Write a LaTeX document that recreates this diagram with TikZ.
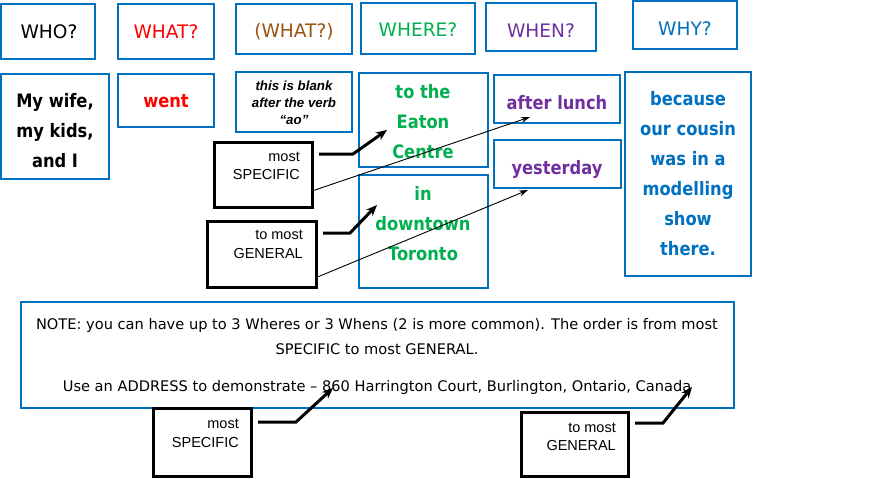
\documentclass[tikz,border=0pt]{standalone}
\usepackage{fontspec}
\setmainfont{DejaVu Sans}
\newfontfamily\arialf{Liberation Sans}
\newfontfamily\comicb[FakeStretch=0.88]{DejaVu Sans}
\usetikzlibrary{arrows.meta,calc,fit}
\definecolor{bblue}{HTML}{0070C0}
\definecolor{cred}{HTML}{FF0000}
\definecolor{cbrown}{HTML}{9C5412}
\definecolor{cgreen}{HTML}{00B050}
\definecolor{cpurple}{HTML}{7030A0}
\begin{document}
\begin{tikzpicture}[x=1pt,y=-1pt,
  bbox/.style={draw=bblue, line width=2.5pt, inner sep=0pt, outer sep=0pt},
  kbox/.style={draw=black, line width=3pt, inner sep=0pt, outer sep=0pt},
  head/.style={inner sep=0pt, font=\fontsize{18.6}{22}\selectfont},
  body/.style={inner sep=0pt, align=center, font=\comicb\bfseries\fontsize{18.5}{30}\selectfont},
  small/.style={inner sep=0pt, align=right, anchor=east, font=\arialf\fontsize{14.5}{18.5}\selectfont},
  notetext/.style={inner sep=0pt, align=center, font=\fontsize{14.6}{25}\selectfont},
  thickarrow/.style={line width=3pt, -{Stealth[length=11pt,width=9pt]}},
  thinarrow/.style={line width=0.9pt, -{Stealth[length=9pt,width=6pt]}},
]
\useasboundingbox[fill=white] (0,0) rectangle (886,479);
% heading boxes
\node[bbox, fit={(1,4)(95,59)}] (who) {};
\node[bbox, fit={(118,4)(214,59)}] (what) {};
\node[bbox, fit={(236,4)(352,54)}] (whatb) {};
\node[bbox, fit={(361,3)(475,54)}] (where) {};
\node[bbox, fit={(486,3)(596,51)}] (when) {};
\node[bbox, fit={(633,1)(737,49)}] (why) {};
\node[head] (whoT) at (49,32) {WHO?};
\node[head, text=cred] (whatT) at (166,32) {WHAT?};
\node[head, text=cbrown] (whatbT) at (294,32) {(WHAT?)};
\node[head, text=cgreen] (whereT) at (418,30) {WHERE?};
\node[head, text=cpurple] (whenT) at (541,31) {WHEN?};
\node[head, text=bblue] (whyT) at (685,29) {WHY?};
% answer boxes
\node[bbox, fit={(1,74)(109,179)}] (wife) {};
\node[bbox, fit={(118,74)(214,127)}] (went) {};
\node[bbox, fit={(236,72)(352,132)}] (blank) {};
\node[bbox, fit={(359,73)(488,167)}] (eaton) {};
\node[bbox, fit={(359,175)(488,288)}] (downtown) {};
\node[bbox, fit={(494,75)(620,123)}] (after) {};
\node[bbox, fit={(494,140)(621,188)}] (yest) {};
\node[bbox, fit={(625,72)(751,276)}] (because) {};
\node[body] (wifeT) at (55,131) {My wife,\\my kids,\\and I};
\node[body, text=cred] (wentT) at (166,101) {went};
\node[inner sep=0pt, align=center, font=\arialf\bfseries\itshape\fontsize{13.3}{17}\selectfont] (blankT) at (294,103) {this is blank\\after the verb\\“ao”};
\node[body, text=cgreen] (eatonT) at (423,122) {to the\\Eaton\\Centre};
\node[body, text=cgreen] (downtownT) at (423,224) {in\\downtown\\Toronto};
\node[body, text=cpurple] (afterT) at (557,103) {after lunch};
\node[body, text=cpurple] (yestT) at (557,169) {yesterday};
\node[body, text=bblue] (becauseT) at (688,174) {because\\our cousin\\was in a\\modelling\\show\\there.};
% note box
\node[bbox, fit={(21,302)(734,408)}] (note) {};
\node[notetext] (noteT) at (377,337) {NOTE: you can have up to 3 Wheres or 3 Whens (2 is more common). The order is from most\\SPECIFIC to most GENERAL.};
\node[notetext] (noteU) at (377,387) {Use an ADDRESS to demonstrate -- 860 Harrington Court, Burlington, Ontario, Canada};
% black boxes
\node[kbox, fit={(214,142)(312,207)}] (spec1) {};
\node[kbox, fit={(207,221)(316,287)}] (gen1) {};
\node[kbox, fit={(153,408)(251,476)}] (spec2) {};
\node[kbox, fit={(521,412)(628,476)}] (gen2) {};
\node[small] (spec1T) at ($(spec1.east)+(-12,-8.5)$) {most\\SPECIFIC};
\node[small] (gen1T) at ($(gen1.east)+(-13,-9.5)$) {to most\\GENERAL};
\node[small] (spec2T) at ($(spec2.east)+(-12,-8.5)$) {most\\SPECIFIC};
\node[small] (gen2T) at ($(gen2.east)+(-12,-7)$) {to most\\GENERAL};
% arrows
\draw[thickarrow] ($(spec1.north east)+(7,12)$) -- ++(34,0) -- ($(eaton.north west)+(28,57)$);
\draw[thickarrow] ($(gen1.north east)+(7,12)$) -- ++(27,0) -- ($(downtown.north west)+(18,30)$);
\draw[thinarrow] ($(spec1.south east)+(0,-16)$) -- ($(after.south west)+(36,-6)$);
\draw[thinarrow] ($(gen1.south east)+(-1,-9)$) -- ($(yest.south west)+(34,2)$);
\draw[thickarrow] ($(spec2.north east)+(7,14)$) -- ++(38,0) -- ($(note.south west)+(312,-20)$);
\draw[thickarrow] ($(gen2.north east)+(7,11)$) -- ++(28,0) -- ($(note.south east)+(-42,-21)$);
\end{tikzpicture}
\end{document}
